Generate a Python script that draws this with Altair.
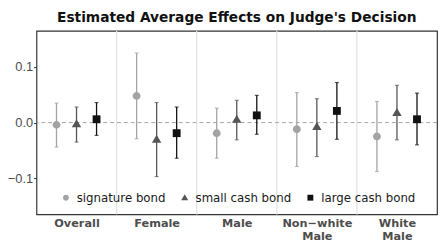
import altair as alt
import pandas as pd

groups = ["Overall", "Female", "Male", "Non−white Male", "White Male"]
bond_types = ["signature bond", "small cash bond", "large cash bond"]

est_signature = [-0.004, 0.048, -0.019, -0.012, -0.025]
lo_signature = [-0.044, -0.029, -0.064, -0.079, -0.088]
hi_signature = [0.035, 0.125, 0.026, 0.054, 0.038]

est_small = [-0.002, -0.030, 0.006, -0.007, 0.018]
lo_small = [-0.035, -0.097, -0.031, -0.061, -0.031]
hi_small = [0.028, 0.036, 0.040, 0.043, 0.067]

est_large = [0.006, -0.019, 0.013, 0.021, 0.006]
lo_large = [-0.023, -0.064, -0.021, -0.030, -0.040]
hi_large = [0.036, 0.028, 0.049, 0.072, 0.053]

offsets = [-0.25, 0.0, 0.25]
colors = ["#a3a3a3", "#555555", "#111111"]
shapes = ["M1,0A1,1,0,1,1,-1,0A1,1,0,1,1,1,0Z",
          "M0,-1.15L1.2,0.9L-1.2,0.9Z",
          "M-1,-1L1,-1L1,1L-1,1Z"]

rows = []
for bi, (bt, est, lo, hi) in enumerate(zip(
        bond_types,
        [est_signature, est_small, est_large],
        [lo_signature, lo_small, lo_large],
        [hi_signature, hi_small, hi_large])):
    for gi, g in enumerate(groups):
        rows.append({"group": g, "bond": bt, "x": gi + offsets[bi],
                     "est": est[gi], "lo": lo[gi], "hi": hi[gi]})
df = pd.DataFrame(rows)

FONT = "DejaVu Sans"

xscale = alt.Scale(domain=[-0.5, 4.5], nice=False, zero=False)
yscale = alt.Scale(domain=[-0.165, 0.165], nice=False, zero=False)
cscale = alt.Scale(domain=bond_types, range=colors)
sscale = alt.Scale(domain=bond_types, range=shapes)

label_expr = ("datum.value == 0 ? 'Overall' : datum.value == 1 ? 'Female' : "
              "datum.value == 2 ? 'Male' : datum.value == 3 ? ['Non−white', 'Male'] : "
              "['White', 'Male']")

xaxis = alt.Axis(values=[0, 1, 2, 3, 4], labelExpr=label_expr, title=None,
                 grid=False, ticks=False, domain=False, labelFontWeight="bold",
                 labelFontSize=11.5, labelColor="#4d4d4d", labelPadding=3,
                 labelFont=FONT, labelLineHeight=13.5)
yaxis = alt.Axis(values=[-0.1, 0.0, 0.1], format=".1f", title=None, grid=False,
                 domain=False, tickColor="#333333", tickSize=3,
                 labelFontSize=13, labelColor="#4d4d4d", labelPadding=1,
                 labelFont="Liberation Sans")

legend = alt.Legend(title=None, orient="none", direction="horizontal",
                    legendX=24, legendY=164, symbolSize=36,
                    labelFontSize=12, labelColor="#1a1a1a",
                    labelFont=FONT, columnPadding=13, labelOffset=5,
                    symbolOpacity=1, symbolStrokeWidth=0)

base = alt.Chart(df)

seps = alt.Chart(pd.DataFrame({"s": [0.5, 1.5, 2.5, 3.5]})).mark_rule(
    color="#e3e3e3", strokeWidth=1.3).encode(
    x=alt.X("s:Q", scale=xscale, axis=xaxis))

zero = alt.Chart(pd.DataFrame({"z": [0.0]})).mark_rule(
    color="#999999", strokeDash=[4, 3], strokeWidth=0.9).encode(
    y=alt.Y("z:Q", scale=yscale, axis=yaxis))

bars = base.mark_rule(strokeWidth=1.3).encode(
    x=alt.X("x:Q", scale=xscale, axis=xaxis),
    y=alt.Y("lo:Q", scale=yscale, axis=yaxis),
    y2="hi:Q",
    color=alt.Color("bond:N", scale=cscale, legend=legend),
)

caps_lo = base.mark_tick(size=4, thickness=1.2, orient="horizontal").encode(
    x=alt.X("x:Q", scale=xscale, axis=xaxis),
    y=alt.Y("lo:Q", scale=yscale, axis=yaxis),
    color=alt.Color("bond:N", scale=cscale, legend=legend))
caps_hi = base.mark_tick(size=4, thickness=1.2, orient="horizontal").encode(
    x=alt.X("x:Q", scale=xscale, axis=xaxis),
    y=alt.Y("hi:Q", scale=yscale, axis=yaxis),
    color=alt.Color("bond:N", scale=cscale, legend=legend))

points = base.mark_point(filled=True, size=64, opacity=1).encode(
    x=alt.X("x:Q", scale=xscale, axis=xaxis),
    y=alt.Y("est:Q", scale=yscale, axis=yaxis),
    color=alt.Color("bond:N", scale=cscale, sort=bond_types, legend=legend),
    shape=alt.Shape("bond:N", scale=sscale, sort=bond_types, legend=legend),
)

chart = alt.layer(seps, zero, bars, caps_lo, caps_hi, points).properties(
    width=408, height=187,
    title=alt.TitleParams("Estimated Average Effects on Judge's Decision",
                          fontSize=14, fontWeight="bold", font=FONT,
                          color="#111111", anchor="middle", offset=5),
    padding={"left": 29, "top": 21, "right": 1, "bottom": 32},
    autosize="none",
).configure_view(stroke="#333333", strokeWidth=1.2)

chart.save("out.html", embed_options={"renderer": "svg", "actions": False})
